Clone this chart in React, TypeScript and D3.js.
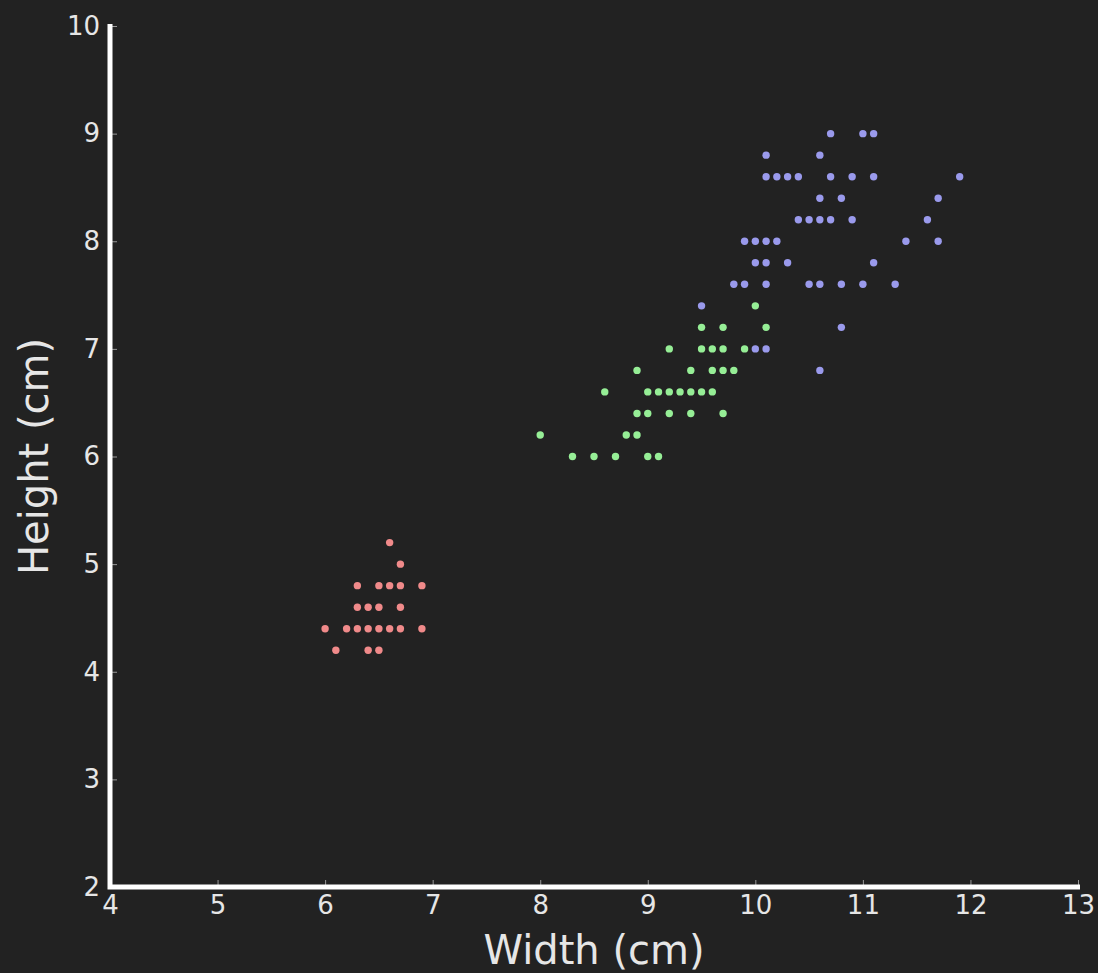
import React, { useEffect, useRef } from "react";
import * as d3 from "d3";

// width / height readings per group, in cm
const redWidth = [6.6, 6.7, 6.3, 6.5, 6.6, 6.7, 6.9, 6.3, 6.4, 6.5, 6.7, 6.0, 6.2, 6.3, 6.4, 6.5, 6.6, 6.7, 6.9, 6.1, 6.4, 6.5];
const redHeight = [5.2, 5.0, 4.8, 4.8, 4.8, 4.8, 4.8, 4.6, 4.6, 4.6, 4.6, 4.4, 4.4, 4.4, 4.4, 4.4, 4.4, 4.4, 4.4, 4.2, 4.2, 4.2];

const greenWidth = [10.0, 9.5, 9.7, 10.1, 9.2, 9.5, 9.6, 9.7, 9.9, 8.9, 9.4, 9.6, 9.7, 9.8, 8.6, 9.0, 9.1, 9.2, 9.3, 9.4, 9.5, 9.6, 8.9, 9.0, 9.2, 9.4, 9.7, 8.0, 8.8, 8.9, 8.3, 8.5, 8.7, 9.0, 9.1];
const greenHeight = [7.4, 7.2, 7.2, 7.2, 7.0, 7.0, 7.0, 7.0, 7.0, 6.8, 6.8, 6.8, 6.8, 6.8, 6.6, 6.6, 6.6, 6.6, 6.6, 6.6, 6.6, 6.6, 6.4, 6.4, 6.4, 6.4, 6.4, 6.2, 6.2, 6.2, 6.0, 6.0, 6.0, 6.0, 6.0];

const blueWidth = [10.7, 11.0, 11.1, 10.1, 10.6, 10.1, 10.2, 10.3, 10.4, 10.7, 10.9, 11.1, 11.9, 10.6, 10.8, 11.7, 10.4, 10.5, 10.6, 10.7, 10.9, 11.6, 9.9, 10.0, 10.1, 10.2, 11.4, 11.7, 10.0, 10.1, 10.3, 11.1, 9.8, 9.9, 10.1, 10.5, 10.6, 10.8, 11.0, 11.3, 9.5, 10.8, 10.0, 10.1, 10.6];
const blueHeight = [9.0, 9.0, 9.0, 8.8, 8.8, 8.6, 8.6, 8.6, 8.6, 8.6, 8.6, 8.6, 8.6, 8.4, 8.4, 8.4, 8.2, 8.2, 8.2, 8.2, 8.2, 8.2, 8.0, 8.0, 8.0, 8.0, 8.0, 8.0, 7.8, 7.8, 7.8, 7.8, 7.6, 7.6, 7.6, 7.6, 7.6, 7.6, 7.6, 7.6, 7.4, 7.2, 7.0, 7.0, 6.8];

const xTicks = [4, 5, 6, 7, 8, 9, 10, 11, 12, 13];
const yTicks = [2, 3, 4, 5, 6, 7, 8, 9, 10];

const W = 1098, H = 973;
const margin = { left: 110, right: 20, top: 26, bottom: 86 };

export default function App() {
  const ref = useRef(null);

  useEffect(() => {
    document.body.style.margin = "0";
    const svg = d3.select(ref.current);

    const x = d3.scaleLinear().domain([4, 13]).range([margin.left, W - margin.right]);
    const y = d3.scaleLinear().domain([2, 10]).range([H - margin.bottom, margin.top]);

    const font = "'DejaVu Sans', sans-serif";

    const gx = svg.selectAll(".x_axis").data([0]).join("g")
      .attr("class", "x_axis")
      .attr("transform", `translate(0, ${y(2)})`)
      .call(d3.axisBottom(x).tickValues(xTicks).tickFormat(d3.format("d")).tickSize(-7).tickPadding(9));
    gx.select(".domain").remove();
    gx.selectAll("line").attr("stroke", "#999").attr("stroke-width", 1);
    gx.selectAll("text").attr("fill", "#e6e6e6").attr("font-size", 26).attr("font-family", font);

    const gy = svg.selectAll(".y_axis").data([0]).join("g")
      .attr("class", "y_axis")
      .attr("transform", `translate(${x(4)}, 0)`)
      .call(d3.axisLeft(y).tickValues(yTicks).tickFormat(d3.format("d")).tickSize(-7).tickPadding(10));
    gy.select(".domain").remove();
    gy.selectAll("line").attr("stroke", "#999").attr("stroke-width", 1);
    gy.selectAll("text").attr("fill", "#e6e6e6").attr("font-size", 26).attr("font-family", font);

    // thick white spines
    svg.selectAll(".spines").data([0]).join("path")
      .attr("class", "spines")
      .attr("d", `M${x(4)},${y(10) - 2} L${x(4)},${y(2)} L${x(13) + 2},${y(2)}`)
      .attr("fill", "none")
      .attr("stroke", "#ffffff")
      .attr("stroke-width", 5);

    const groups = [
      { w: redWidth, h: redHeight, color: "#f08a8a" },
      { w: greenWidth, h: greenHeight, color: "#96ee96" },
      { w: blueWidth, h: blueHeight, color: "#9a9aec" },
    ];
    const pts = groups.flatMap((g) => g.w.map((v, i) => ({ x: v, y: g.h[i], color: g.color })));

    svg.selectAll("circle").data(pts).join("circle")
      .attr("cx", (d) => x(d.x))
      .attr("cy", (d) => y(d.y))
      .attr("r", 3.7)
      .attr("fill", (d) => d.color);

    svg.selectAll(".x_title").data([0]).join("text")
      .attr("class", "x_title")
      .attr("x", (x(4) + x(13)) / 2)
      .attr("y", 964)
      .attr("text-anchor", "middle")
      .attr("font-size", 40)
      .attr("font-family", font)
      .attr("fill", "#e6e6e6")
      .text("Width (cm)");

    svg.selectAll(".y_title").data([0]).join("text")
      .attr("class", "y_title")
      .attr("transform", `translate(48, ${(y(2) + y(10)) / 2}) rotate(-90)`)
      .attr("text-anchor", "middle")
      .attr("font-size", 40)
      .attr("font-family", font)
      .attr("fill", "#e6e6e6")
      .text("Height (cm)");
  }, []);

  return (
    <svg ref={ref} width={W} height={H} style={{ position: "absolute", top: 0, left: 0, background: "#222222" }} />
  );
}
